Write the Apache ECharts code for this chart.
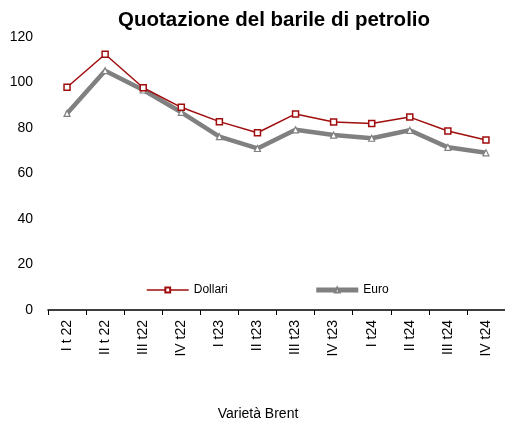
<!DOCTYPE html>
<html>
<head>
<meta charset="utf-8">
<script src="https://cdn.jsdelivr.net/npm/echarts@6/dist/echarts.min.js"></script>
<style>
  html, body { margin: 0; padding: 0; background: #fff; }
  #chart { width: 505px; height: 421px; }
</style>
</head>
<body>
<div id="chart"></div>
<script>
// quarters on the x axis
const quarters = ['I t 22', 'II t 22', 'III t22', 'IV t22', 'I t23', 'II t23', 'III t23', 'IV t23', 'I t24', 'II t24', 'III t24', 'IV t24']
// prices
const dollari = [97.9, 112.4, 97.7, 89.1, 82.8, 77.9, 86.2, 82.6, 82.0, 84.8, 78.7, 74.7]
const euro = [86.4, 105.2, 96.7, 86.9, 76.2, 71.0, 79.2, 76.9, 75.5, 79.0, 71.5, 69.1]
const yTicks = [0, 20, 40, 60, 80, 100, 120]

const font = '"Liberation Sans", Arial, sans-serif'
const myChart = echarts.init(document.getElementById('chart'))

const option = {
  animation: false,
  title: [
    {
      text: 'Quotazione del barile di petrolio',
      left: 269,
      textAlign: 'center',
      top: 5,
      textStyle: { fontFamily: font, fontWeight: 'bold', fontSize: 20.5, color: '#000' },
    },
    {
      text: 'Varietà Brent',
      left: 253,
      textAlign: 'center',
      top: 402,
      textStyle: { fontFamily: font, fontWeight: 'normal', fontSize: 14, color: '#000' },
    },
  ],
  grid: { left: 48, right: -5, top: 37, bottom: 111, containLabel: false },
  legend: {
    left: 141,
    top: 279,
    itemWidth: 42,
    itemHeight: 6,
    itemGap: 86,
    textStyle: { fontFamily: font, fontSize: 12, color: '#000' },
    data: [
      { name: 'Dollari', lineStyle: { width: 1.5 } },
      { name: 'Euro', lineStyle: { width: 5 } },
    ],
  },
  xAxis: {
    type: 'category',
    data: quarters,
    boundaryGap: true,
    axisLine: { lineStyle: { color: '#000', width: 1.5 } },
    axisTick: { show: true, length: 5, lineStyle: { color: '#000' } },
    axisLabel: {
      rotate: 90,
      margin: 10,
      fontFamily: font,
      fontSize: 14,
      color: '#000',
    },
  },
  yAxis: {
    type: 'value',
    min: 0,
    max: 120,
    interval: 20,
    axisLine: { show: false },
    axisTick: { show: false },
    splitLine: { show: false },
    axisLabel: {
      margin: 15,
      fontFamily: font,
      fontSize: 14,
      color: '#000',
      formatter: (v) => yTicks.includes(v) ? String(v) : '',
    },
  },
  series: [
    {
      name: 'Dollari',
      type: 'line',
      data: dollari,
      symbol: 'rect',
      symbolSize: 6,
      showAllSymbol: true,
      lineStyle: { color: '#a00d0d', width: 1.5 },
      itemStyle: { color: '#fff', borderColor: '#a00d0d', borderWidth: 1.5 },
      z: 3,
    },
    {
      name: 'Euro',
      type: 'line',
      data: euro,
      symbol: 'triangle',
      symbolSize: 6,
      showAllSymbol: true,
      lineStyle: { color: '#808080', width: 4.5 },
      itemStyle: { color: '#fff', borderColor: '#808080', borderWidth: 1.2 },
      z: 2,
    },
  ],
}

myChart.setOption(option)
</script>
</body>
</html>
